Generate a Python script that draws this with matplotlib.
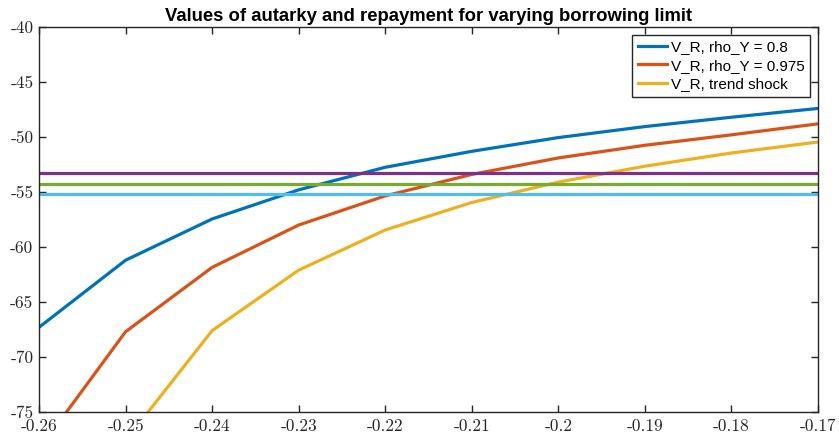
import numpy as np
import matplotlib
matplotlib.use("Agg")
import matplotlib.pyplot as plt

# borrowing limit grid
b_limit = [-0.26, -0.25, -0.24, -0.23, -0.22, -0.21, -0.20, -0.19, -0.18, -0.17]

# value of repayment for each income process
vr_rho08 = [-67.3, -61.2, -57.45, -54.8, -52.75, -51.3, -50.05, -49.05, -48.2, -47.4]
vr_rho0975 = [-78.4, -67.7, -61.85, -58.0, -55.35, -53.4, -51.9, -50.75, -49.8, -48.8]
vr_trend = [-88.0, -77.6, -67.6, -62.1, -58.45, -55.95, -54.1, -52.65, -51.45, -50.45]

# autarky values (flat in the borrowing limit)
va_levels = [-53.3, -54.25, -55.2]

labels = ['V_R, rho_Y = 0.8', 'V_R, rho_Y = 0.975', 'V_R, trend shock']
colors = ['#0072BD', '#D95319', '#EDB120']
va_colors = ['#7E2F8E', '#77AC30', '#4DBEEE']

xtick_labels = ['-0.26', '-0.25', '-0.24', '-0.23', '-0.22', '-0.21',
                '-0.2', '-0.19', '-0.18', '-0.17']
ytick_vals = [-75, -70, -65, -60, -55, -50, -45, -40]

plt.rcParams['axes.unicode_minus'] = False

fig = plt.figure(figsize=(8.39, 4.36), dpi=100)
ax = fig.add_axes([0.0465, 0.055, 0.9285, 0.883])

for vals, lab, c in zip([vr_rho08, vr_rho0975, vr_trend], labels, colors):
    ax.plot(b_limit, vals, color=c, lw=2.3, label=lab)
for lvl, c in zip(va_levels, va_colors):
    ax.plot(b_limit, [lvl] * len(b_limit), color=c, lw=2.3)

ax.set_xlim(-0.26, -0.17)
ax.set_ylim(-75, -40)
ax.set_xticks(b_limit)
ax.set_xticklabels(xtick_labels)
ax.set_yticks(ytick_vals)
ax.set_yticklabels([str(v) for v in ytick_vals])

ax.tick_params(direction='in', length=5, width=1, top=True, right=True,
               colors='#262626', labelsize=12.5)
ax.tick_params(axis='x', pad=5)
ax.tick_params(axis='y', pad=4)
for lab in ax.get_xticklabels() + ax.get_yticklabels():
    lab.set_family('cmr10')
for s in ax.spines.values():
    s.set_color('#262626')
    s.set_linewidth(1.0)

ax.set_title('Values of autarky and repayment for varying borrowing limit',
             family='Liberation Sans', fontweight='bold', fontsize=13.3, pad=4)

leg = ax.legend(loc='upper right', prop={'family': 'Liberation Sans', 'size': 11},
                fancybox=False, framealpha=1, edgecolor='#262626',
                handlelength=1.9, handletextpad=0.3, borderpad=0.35,
                labelspacing=0.3, borderaxespad=0.5)
leg.get_frame().set_linewidth(1.0)

fig.savefig('out.png', dpi=100)
